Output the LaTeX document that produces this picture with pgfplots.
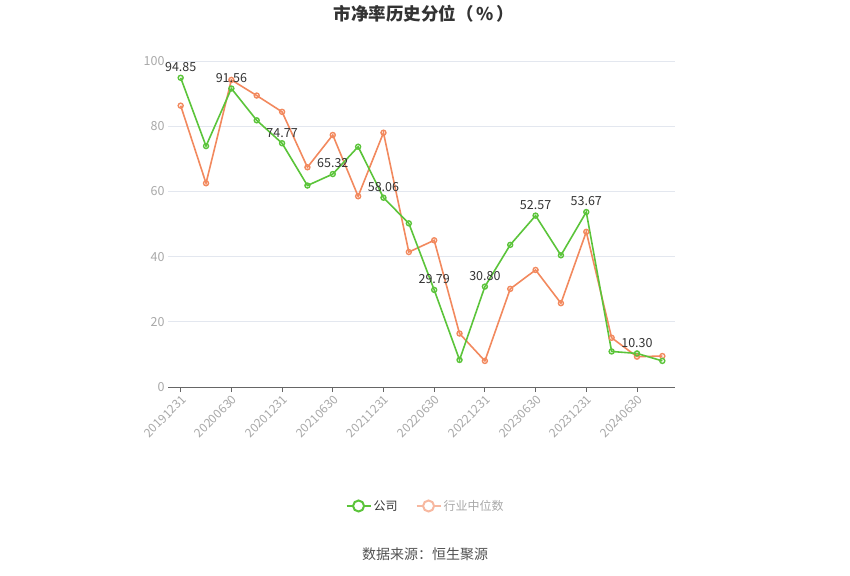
\documentclass[border=0pt]{standalone}
\usepackage{fontspec}
\setmainfont{Noto Sans CJK SC}
\usepackage{pgfplots}
\pgfplotsset{compat=1.18}
\definecolor{cgreen}{HTML}{5BC43A}
\definecolor{corange}{HTML}{F2895E}
\definecolor{corangepale}{HTML}{F7B8A0}
\definecolor{cgrid}{HTML}{E3E7EF}
\definecolor{ctick}{HTML}{A8A8A8}
\definecolor{ctext}{HTML}{333333}
\begin{document}
\begin{tikzpicture}[x=1pt,y=1pt]
\path[use as bounding box] (0,0) rectangle (850,575);
\node[font=\fontsize{17.5}{20}\selectfont\bfseries, text=ctext] at (424,561) {市净率历史分位（\,\%\,）};
\node[font=\fontsize{14}{16}\selectfont, text=ctext!85] at (425,21) {数据来源：恒生聚源};
\begin{axis}[
  at={(168pt,188pt)}, anchor=south west,
  scale only axis, width=507pt, height=326pt,
  xmin=-0.5, xmax=19.5, ymin=0, ymax=100,
  ytick={0,20,...,100},
  xtick={0,2,...,18},
  xticklabels={20191231,20200630,20201231,20210630,20211231,20220630,20221231,20230630,20231231,20240630},
  axis x line*=bottom, axis y line*=left,
  y axis line style={draw=none},
  x axis line style={draw=black!60, line width=0.8pt},
  ytick style={draw=none},
  xtick style={draw=black!60, line width=0.8pt},
  xtick align=outside, major tick length=5pt,
  ymajorgrids, grid style={draw=cgrid, line width=0.8pt},
  x tick label style={rotate=45, anchor=north east, font=\fontsize{12}{12}\selectfont, text=ctick, inner sep=1.5pt},
  y tick label style={font=\fontsize{12.5}{13}\selectfont, text=ctick},
  /pgf/number format/assume math mode=true,
  clip=false,
  legend style={at={(0.508,-0.365)}, anchor=center, draw=none, fill=none,
    legend columns=2, font=\fontsize{12}{14}\selectfont,
    /tikz/every even column/.append style={column sep=16pt}},
  legend cell align=left,
  legend image code/.code={\draw[#1, line width=2pt] (-2pt,0pt) -- (22pt,0pt); \draw[#1, line width=2pt, fill=white] (10pt,0pt) circle (5.5pt);},
]
\addplot[corange, line width=1.6pt, mark=o, mark size=2.5pt, mark options={fill=white, line width=1.4pt}, forget plot] coordinates {
(0,86.3) (1,62.5) (2,94.2) (3,89.4) (4,84.4) (5,67.4) (6,77.3) (7,58.5) (8,78.0) (9,41.4)
(10,45.0) (11,16.4) (12,8.0) (13,30.1) (14,35.9) (15,25.7) (16,47.6) (17,15.1) (18,9.3) (19,9.5)
};
\addplot[cgreen, line width=1.6pt, mark=o, mark size=2.5pt, mark options={fill=white, line width=1.4pt}, forget plot] coordinates {
(0,94.85) (1,73.9) (2,91.56) (3,81.8) (4,74.77) (5,61.8) (6,65.32) (7,73.7) (8,58.06) (9,50.2)
(10,29.79) (11,8.3) (12,30.80) (13,43.6) (14,52.57) (15,40.4) (16,53.67) (17,10.9) (18,10.30) (19,8.0)
};
\addplot[draw=none, forget plot, point meta=explicit symbolic, nodes near coords,
  every node near coord/.append style={font=\fontsize{12.5}{13}\selectfont, text=ctext, anchor=south, yshift=2.5pt}]
  coordinates {
(0,94.85) [94.85] (2,91.56) [91.56] (4,74.77) [74.77] (6,65.32) [65.32] (8,58.06) [58.06]
(10,29.79) [29.79] (12,30.80) [30.80] (14,52.57) [52.57] (16,53.67) [53.67] (18,10.30) [10.30]
};
\addlegendimage{cgreen}
\addlegendentry{\textcolor{ctext}{公司}}
\addlegendimage{corangepale}
\addlegendentry{\textcolor{ctick}{行业中位数}}
\end{axis}
\end{tikzpicture}
\end{document}
